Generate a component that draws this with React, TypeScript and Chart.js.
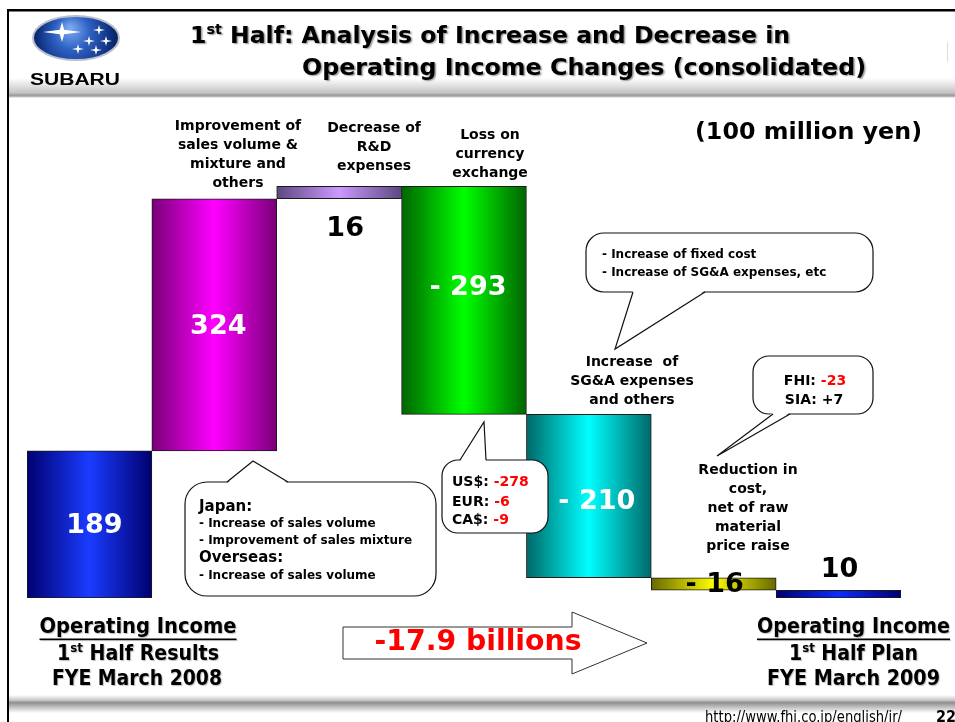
import React, { useEffect, useRef } from 'react';
import { Chart, registerables } from 'chart.js';
Chart.register(...registerables);

// ---- data ----
const categories = [
  'Operating Income 1st Half Results FYE March 2008',
  'Improvement of sales volume & mixture and others',
  'Decrease of R&D expenses',
  'Loss on currency exchange',
  'Increase of SG&A expenses and others',
  'Reduction in cost, net of raw material price raise',
  'Operating Income 1st Half Plan FYE March 2009',
];
const changes = [189, 324, 16, -293, -210, -16, 10];
const isTotal = [true, false, false, false, false, false, true];
const valueLabels = ['189', '324', '16', '- 293', '- 210', '- 16', '10'];
const yMax = 627;

// ---- styles ----
const valueColors = ['#ffffff', '#ffffff', '#000000', '#ffffff', '#ffffff', '#000000', '#000000'];
const valueOffsets = [
  { dx: 5, dy: 2 },
  { dx: 4, dy: 2 },
  { dx: 6, dy: 36 },
  { dx: 4, dy: -12 },
  { dx: 8, dy: 6 },
  { dx: 1, dy: 1 },
  { dx: 1, dy: -24 },
];
const barGradients = [
  ['#000070', '#1a3cff', '#000070'],
  ['#780078', '#ff00ff', '#780078'],
  ['#5c4880', '#cc99ff', '#5c4880'],
  ['#006400', '#00ff00', '#006400'],
  ['#006868', '#00ffff', '#006868'],
  ['#686800', '#ffff00', '#686800'],
  ['#000070', '#0a2cff', '#000070'],
];

function buildRanges(): number[][] {
  let run = 0;
  return changes.map((c, i) => {
    if (isTotal[i]) {
      run = c;
      return [0, c];
    }
    const a = run;
    run += c;
    return [Math.min(a, run), Math.max(a, run)];
  });
}

const DV = '"DejaVu Sans", Verdana, sans-serif';
const NARROW = '"Liberation Sans Narrow", "DejaVu Sans Condensed", "Liberation Sans", Arial, sans-serif';
const f = (size: number, fam = DV, weight = 'bold') => `${weight} ${size}px ${fam}`;

type Seg = { t: string; font: string; color?: string; dy?: number };

function drawRich(ctx: CanvasRenderingContext2D, segs: Seg[], x: number, y: number, align: 'left' | 'center' | 'right', width?: number) {
  ctx.save();
  let total = 0;
  for (const s of segs) {
    ctx.font = s.font;
    total += ctx.measureText(s.t).width;
  }
  const sx = width ? width / total : 1;
  const w = total * sx;
  const x0 = align === 'center' ? x - w / 2 : align === 'right' ? x - w : x;
  ctx.translate(x0, y);
  ctx.scale(sx, 1);
  ctx.textBaseline = 'middle';
  ctx.textAlign = 'left';
  let cx = 0;
  for (const s of segs) {
    ctx.font = s.font;
    ctx.fillStyle = s.color || '#000';
    ctx.fillText(s.t, cx, s.dy || 0);
    cx += ctx.measureText(s.t).width;
  }
  ctx.restore();
  return { left: x0, right: x0 + w };
}

function txt(ctx: CanvasRenderingContext2D, t: string, x: number, y: number, font: string, color = '#000', align: CanvasTextAlign = 'center') {
  ctx.save();
  ctx.font = font;
  ctx.fillStyle = color;
  ctx.textAlign = align;
  ctx.textBaseline = 'middle';
  ctx.fillText(t, x, y);
  ctx.restore();
}

function callout(ctx: CanvasRenderingContext2D, x: number, y: number, w: number, h: number, r: number, b1: number[], b2: number[], apex: number[]) {
  ctx.save();
  ctx.lineWidth = 1.2;
  ctx.strokeStyle = '#111';
  ctx.fillStyle = '#fff';
  ctx.beginPath();
  (ctx as any).roundRect(x, y, w, h, r);
  ctx.fill();
  ctx.stroke();
  const inward = Math.abs(b1[1] - y) < 1.5 ? 1.6 : -1.6;
  ctx.beginPath();
  ctx.moveTo(b1[0], b1[1] + inward);
  ctx.lineTo(apex[0], apex[1]);
  ctx.lineTo(b2[0], b2[1] + inward);
  ctx.closePath();
  ctx.fill();
  ctx.beginPath();
  ctx.moveTo(b1[0], b1[1]);
  ctx.lineTo(apex[0], apex[1]);
  ctx.lineTo(b2[0], b2[1]);
  ctx.stroke();
  ctx.restore();
}

function sparkle(ctx: CanvasRenderingContext2D, cx: number, cy: number, rx: number, ry: number) {
  const w = Math.min(rx, ry) * 0.22;
  ctx.beginPath();
  ctx.moveTo(cx - rx, cy);
  ctx.lineTo(cx - w, cy - w);
  ctx.lineTo(cx, cy - ry);
  ctx.lineTo(cx + w, cy - w);
  ctx.lineTo(cx + rx, cy);
  ctx.lineTo(cx + w, cy + w);
  ctx.lineTo(cx, cy + ry);
  ctx.lineTo(cx - w, cy + w);
  ctx.closePath();
  ctx.fill();
}

const barLabels = [
  { lines: ['Improvement of', 'sales volume &', 'mixture and', 'others'], x: 238, y: 126 },
  { lines: ['Decrease of', 'R&D', 'expenses'], x: 374, y: 128 },
  { lines: ['Loss on', 'currency', 'exchange'], x: 490, y: 135 },
  { lines: ['Increase  of', 'SG&A expenses', 'and others'], x: 632, y: 362 },
  { lines: ['Reduction in', 'cost,', 'net of raw', 'material', 'price raise'], x: 748, y: 470 },
];

const slidePlugin = {
  id: 'slide',
  beforeDraw(chart: any) {
    const ctx: CanvasRenderingContext2D = chart.ctx;
    const W = chart.width;
    const H = chart.height;
    ctx.save();
    ctx.fillStyle = '#fff';
    ctx.fillRect(0, 0, W, H);
    // header shadow band
    let g = ctx.createLinearGradient(0, 78, 0, 98);
    g.addColorStop(0, '#ffffff');
    g.addColorStop(0.75, '#c4c4c4');
    g.addColorStop(0.86, '#999999');
    g.addColorStop(0.93, '#b8b8b8');
    g.addColorStop(1, '#ffffff');
    ctx.fillStyle = g;
    ctx.fillRect(9, 78, W - 9, 20);
    // footer band
    g = ctx.createLinearGradient(0, 695, 0, 713);
    g.addColorStop(0, '#ffffff');
    g.addColorStop(0.3, '#c4c4c4');
    g.addColorStop(0.42, '#8f8f8f');
    g.addColorStop(1, '#ffffff');
    ctx.fillStyle = g;
    ctx.fillRect(9, 695, W - 9, 18);
    // frame
    ctx.fillStyle = '#000';
    ctx.fillRect(7, 9, W - 7, 2.5);
    ctx.fillRect(7, 9, 2, H - 9);
    ctx.strokeStyle = '#dddddd';
    ctx.lineWidth = 1;
    ctx.beginPath();
    ctx.moveTo(947.5, 42);
    ctx.lineTo(947.5, 62);
    ctx.stroke();
    ctx.restore();
  },
  afterDraw(chart: any) {
    const ctx: CanvasRenderingContext2D = chart.ctx;
    ctx.save();

    // ---- logo ----
    const rg = ctx.createRadialGradient(70, 28, 2, 76, 40, 46);
    rg.addColorStop(0, '#7aa6ee');
    rg.addColorStop(0.35, '#2f62c4');
    rg.addColorStop(0.8, '#0d2d7a');
    rg.addColorStop(1, '#061a4a');
    ctx.fillStyle = rg;
    ctx.beginPath();
    ctx.ellipse(76, 38, 43, 22, 0, 0, Math.PI * 2);
    ctx.fill();
    ctx.lineWidth = 2;
    ctx.strokeStyle = '#b8c0cc';
    ctx.stroke();
    ctx.fillStyle = '#ffffff';
    sparkle(ctx, 62, 32, 19, 10);
    sparkle(ctx, 99, 30, 6, 5);
    sparkle(ctx, 89, 41, 6, 5);
    sparkle(ctx, 106, 41, 6, 5);
    sparkle(ctx, 78, 49, 6, 5);
    sparkle(ctx, 96, 50, 6, 5);
    drawRich(ctx, [{ t: 'SUBARU', font: f(16, '"Liberation Sans", Arial, sans-serif') }], 75, 81, 'center', 90);

    // ---- title ----
    ctx.save();
    ctx.shadowColor = 'rgba(0,0,0,0.4)';
    ctx.shadowOffsetX = 1.5;
    ctx.shadowOffsetY = 1.5;
    ctx.shadowBlur = 1.5;
    drawRich(ctx, [
      { t: '1', font: f(23) },
      { t: 'st', font: f(14), dy: -7 },
      { t: ' Half: Analysis of Increase and Decrease in', font: f(23) },
    ], 190, 37, 'left', 600);
    drawRich(ctx, [{ t: 'Operating Income Changes (consolidated)', font: f(23) }], 302, 69, 'left', 564);
    ctx.restore();

    drawRich(ctx, [{ t: '(100 million yen)', font: f(23) }], 695, 133, 'left', 227);

    // ---- bar description labels ----
    for (const l of barLabels) {
      l.lines.forEach((line, k) => txt(ctx, line, l.x, l.y + k * 19, f(14)));
    }

    // ---- value labels ----
    const meta = chart.getDatasetMeta(0);
    meta.data.forEach((bar: any, i: number) => {
      const mid = (bar.y + bar.base) / 2;
      txt(ctx, valueLabels[i], bar.x + valueOffsets[i].dx, mid + valueOffsets[i].dy, f(27), valueColors[i]);
    });

    // ---- callouts ----
    callout(ctx, 185, 482, 251, 114, 22, [227, 482], [288, 482], [253, 461]);
    txt(ctx, 'Japan:', 199, 507, f(15), '#000', 'left');
    txt(ctx, '- Increase of sales volume', 199, 524, f(12), '#000', 'left');
    txt(ctx, '- Improvement of sales mixture', 199, 541, f(12), '#000', 'left');
    txt(ctx, 'Overseas:', 199, 558, f(15), '#000', 'left');
    txt(ctx, '- Increase of sales volume', 199, 576, f(12), '#000', 'left');

    callout(ctx, 442, 460, 106, 73, 16, [460, 460], [486, 460], [484, 422]);
    drawRich(ctx, [{ t: 'US$: ', font: f(14) }, { t: '-278', font: f(14), color: '#ff0000' }], 452, 482, 'left');
    drawRich(ctx, [{ t: 'EUR: ', font: f(14) }, { t: '-6', font: f(14), color: '#ff0000' }], 452, 502, 'left');
    drawRich(ctx, [{ t: 'CA$: ', font: f(14) }, { t: '-9', font: f(14), color: '#ff0000' }], 452, 520, 'left');

    callout(ctx, 586, 233, 287, 59, 18, [633, 292], [705, 292], [615, 349]);
    txt(ctx, '- Increase of fixed cost', 602, 255, f(12), '#000', 'left');
    txt(ctx, '- Increase of SG&A expenses, etc', 602, 273, f(12), '#000', 'left');

    callout(ctx, 753, 356, 120, 58, 16, [773, 414], [790, 414], [717, 456]);
    drawRich(ctx, [{ t: 'FHI: ', font: f(14) }, { t: '-23', font: f(14), color: '#ff0000' }], 815, 381, 'center');
    drawRich(ctx, [{ t: 'SIA: +7', font: f(14) }], 814, 400, 'center');

    // ---- arrow ----
    ctx.save();
    ctx.beginPath();
    ctx.moveTo(343, 627);
    ctx.lineTo(572, 627);
    ctx.lineTo(572, 612);
    ctx.lineTo(647, 643);
    ctx.lineTo(572, 674);
    ctx.lineTo(572, 659);
    ctx.lineTo(343, 659);
    ctx.closePath();
    ctx.fillStyle = '#fff';
    ctx.fill();
    ctx.lineWidth = 1;
    ctx.strokeStyle = '#333';
    ctx.stroke();
    ctx.restore();
    drawRich(ctx, [{ t: '-17.9 billions', font: f(28), color: '#ff0000' }], 478, 643, 'center', 207);

    // ---- bottom labels ----
    const bf = f(21, NARROW);
    const bs = f(13, NARROW);
    ctx.save();
    ctx.shadowColor = 'rgba(0,0,0,0.25)';
    ctx.shadowOffsetX = 1;
    ctx.shadowOffsetY = 1;
    ctx.shadowBlur = 1;
    const u1 = drawRich(ctx, [{ t: 'Operating Income', font: bf }], 138, 628, 'center', 197);
    drawRich(ctx, [{ t: '1', font: bf }, { t: 'st', font: bs, dy: -6 }, { t: ' Half Results', font: bf }], 138, 655, 'center', 162);
    drawRich(ctx, [{ t: 'FYE March 2008', font: bf }], 137, 680, 'center', 170);
    const u2 = drawRich(ctx, [{ t: 'Operating Income', font: bf }], 853.5, 628, 'center', 193);
    drawRich(ctx, [{ t: '1', font: bf }, { t: 'st', font: bs, dy: -6 }, { t: ' Half Plan', font: bf }], 853.5, 655, 'center', 129);
    drawRich(ctx, [{ t: 'FYE March 2009', font: bf }], 853.5, 680, 'center', 173);
    ctx.fillStyle = '#000';
    ctx.fillRect(u1.left, 638.5, u1.right - u1.left, 1.6);
    ctx.fillRect(u2.left, 638.5, u2.right - u2.left, 1.6);
    ctx.restore();

    // ---- footer ----
    drawRich(ctx, [{ t: 'http://www.fhi.co.jp/english/ir/', font: f(15, NARROW, 'normal') }], 705, 718, 'left', 197);
    drawRich(ctx, [{ t: '22', font: f(16, NARROW) }], 936, 718, 'left');

    ctx.restore();
  },
};

export default function App() {
  const ref = useRef<HTMLCanvasElement | null>(null);
  useEffect(() => {
    if (!ref.current) return;
    const ranges = buildRanges();
    const chart = new Chart(ref.current, {
      type: 'bar',
      data: {
        labels: categories,
        datasets: [
          {
            data: ranges as any,
            backgroundColor: (c: any) => {
              const i = c.dataIndex;
              const stops = barGradients[i] || barGradients[0];
              const ch = c.chart;
              const xs = ch.scales && ch.scales.x;
              if (!ch.chartArea || !xs || i === undefined) return stops[1];
              const w = (ch.chartArea.right - ch.chartArea.left) / categories.length;
              const cx = xs.getPixelForValue(i);
              const g = ch.ctx.createLinearGradient(cx - w / 2, 0, cx + w / 2, 0);
              g.addColorStop(0, stops[0]);
              g.addColorStop(0.5, stops[1]);
              g.addColorStop(1, stops[2]);
              return g;
            },
            borderColor: '#1a1a1a',
            borderWidth: 1,
            borderSkipped: false,
            barPercentage: 1,
            categoryPercentage: 1,
          } as any,
        ],
      },
      options: {
        responsive: false,
        animation: false,
        events: [],
        layout: { padding: { left: 27, right: 54, top: 110, bottom: 124 } },
        plugins: {
          legend: { display: false },
          tooltip: { enabled: false },
          title: { display: false },
        },
        scales: {
          x: { display: false },
          y: { display: false, min: 0, max: yMax },
        },
      },
      plugins: [slidePlugin],
    });
    return () => chart.destroy();
  }, []);
  return (
    <div style={{ position: 'absolute', left: 0, top: 0, width: 955, height: 722, overflow: 'hidden' }}>
      <canvas ref={ref} width={955} height={722} style={{ width: 955, height: 722, display: 'block' }} />
    </div>
  );
}
